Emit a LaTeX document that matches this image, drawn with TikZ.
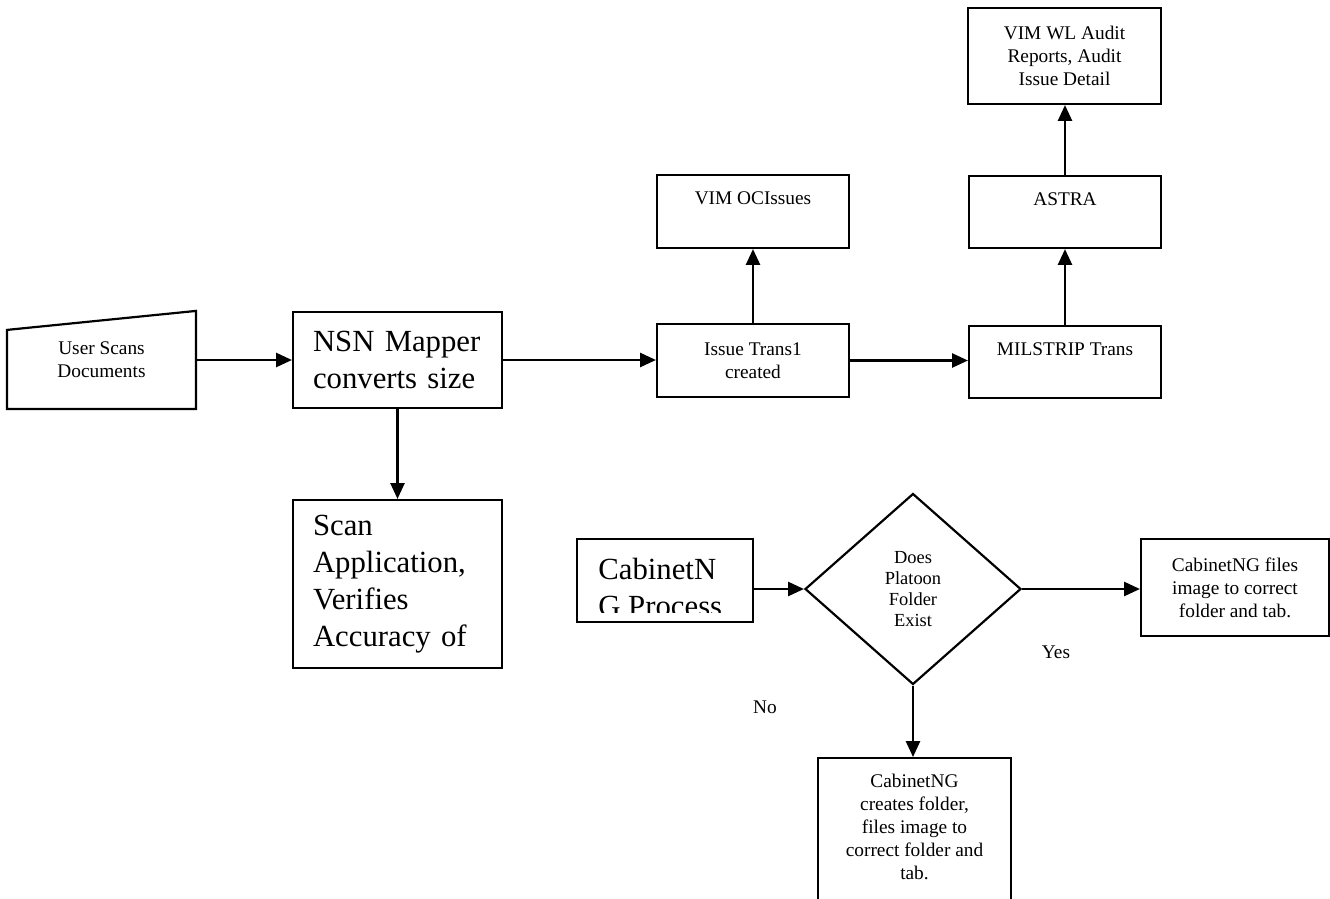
\documentclass[tikz,border=0pt]{standalone}
\usepackage{fontspec}
\setmainfont{Liberation Serif}
\usetikzlibrary{shapes,arrows.meta,positioning,calc}
\newcommand{\boxfont}{\fontsize{11pt}{13pt}\selectfont}
\newcommand{\bigboxfont}{\fontsize{17.5pt}{21pt}\selectfont}
\newcommand{\diafont}{\fontsize{10.5pt}{12pt}\selectfont}

\begin{document}
\begin{tikzpicture}[x=0.02cm, y=-0.02cm,
		box/.style={draw, rectangle, line width=1.25pt, inner sep=0pt, font=\boxfont, align=center},
		bigbox/.style={box, text width=3.38cm, inner xsep=0.4cm, align=left, font=\bigboxfont},
		toptext/.style={anchor=north, inner sep=0pt, yshift=-0.34cm, font=\boxfont, align=center},
		flow/.style={line width=1.25pt, -{Triangle[length=9pt,width=8pt]}}]
				% Draw page
				\useasboundingbox (0,0) rectangle (1330,899);
				\clip (0,0) rectangle (1330,899);
				
				% Draw scan row
				\node[box, draw=none, minimum width=3.74cm, minimum height=1.92cm] (user) at (101.5,360) {User Scans\\Documents};
				\draw[line width=1.25pt] (user.south west) -- (user.south east) -- (user.north east) -- ($(user.north west)+(0,19)$) -- cycle;
				\node[bigbox, minimum width=4.18cm, minimum height=1.92cm] (nsn) at (397.5,360) {NSN Mapper\\converts size};
				\node[bigbox, minimum width=4.18cm, minimum height=3.36cm] (scan) at (397.5,584) {Scan\\Application,\\Verifies\\Accuracy of};
				
				% Draw transaction boxes
				\node[box, minimum width=3.84cm, minimum height=1.46cm] (issue) at (753,360.5) {Issue Trans1\\created};
				\node[box, minimum width=3.84cm, minimum height=1.46cm, label={[toptext]north:VIM OCIssues}] (ocissues) at (753,211.5) {};
				\node[box, minimum width=3.84cm, minimum height=1.44cm, label={[toptext]north:MILSTRIP Trans}] (milstrip) at (1065,362) {};
				\node[box, minimum width=3.84cm, minimum height=1.44cm, label={[toptext]north:ASTRA}] (astra) at (1065,212) {};
				\node[box, minimum width=3.86cm, minimum height=1.92cm] (audit) at (1064.5,56) {VIM WL Audit\\Reports, Audit\\Issue Detail};
				
				% Draw CabinetNG process
				\node[box, minimum width=3.52cm, minimum height=1.66cm] (cabinet) at (665,580.5) {};
				\begin{scope}
					\clip (cabinet.north west) rectangle (753,612);
					\node[anchor=north west, inner sep=0pt, align=left, font=\bigboxfont] (cabtext) at (598,558) {CabinetN\\G Process};
				\end{scope}
				\node[draw, diamond, line width=1.25pt, inner sep=0pt, minimum width=4.32cm, minimum height=3.82cm, font=\diafont, align=center] (decision) at (913,589) {Does\\Platoon\\Folder\\Exist};
				\node[box, minimum width=3.76cm, minimum height=1.94cm] (files) at (1235,587.5) {CabinetNG files\\image to correct\\folder and tab.};
				\node[box, anchor=north, minimum width=3.86cm, minimum height=3.6cm, label={[toptext]north:{CabinetNG\\creates folder,\\files image to\\correct folder and\\tab.}}] (newfolder) at (914.5,757) {};
				
				\node[font=\boxfont] (yes) at (1056,652) {Yes};
				\node[font=\boxfont] (no) at (765,707) {No};
				
				% Draw connections
				\draw[flow] (user) -- (nsn);
				\draw[flow] (nsn.east) -- (nsn.east -| issue.west);
				\draw[flow] (nsn) -- (scan);
				\draw[flow] (issue) -- (ocissues);
				\draw[flow] (issue.east) -- (issue.east -| milstrip.west);
				\draw[flow] (milstrip) -- (astra);
				\draw[flow] (astra.north) -- (astra.north |- audit.south);
				\draw[flow] (cabinet.east |- decision.west) -- (decision.west);
				\draw[flow] (decision.east) -- (decision.east -| files.west);
				\draw[flow] (decision.south) -- (decision.south |- newfolder.north);
			\end{tikzpicture}
\end{document}
